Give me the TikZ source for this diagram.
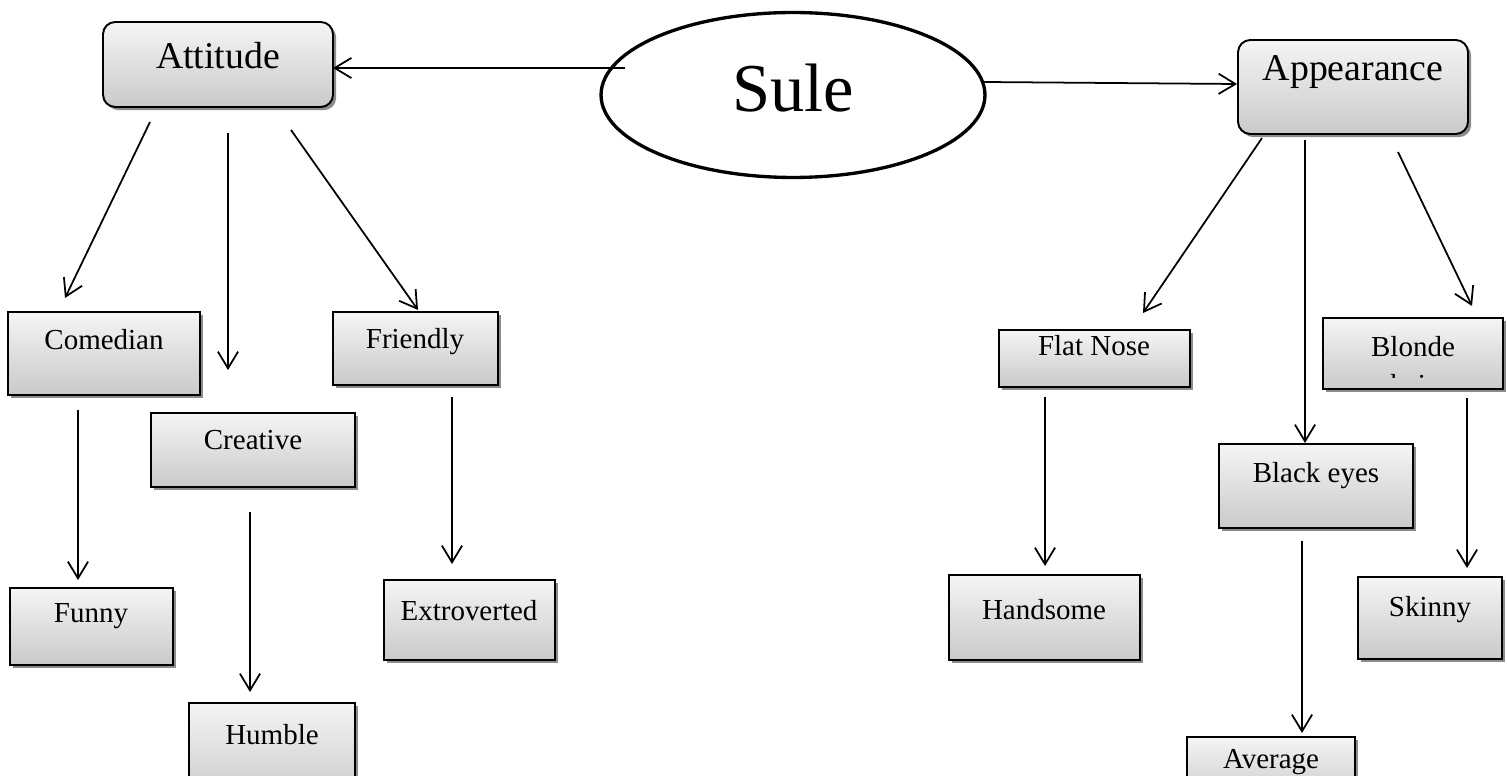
\documentclass[tikz,border=0pt]{standalone}
\usepackage{fontspec}
\setmainfont{Liberation Serif}
\usetikzlibrary{arrows.meta,shapes.geometric,shadows,fit}
\begin{document}
\begin{tikzpicture}[x=0.02cm,y=-0.02cm,
  box/.style={draw=black, line width=1.1pt, top color=gray!8, bottom color=gray!42,
    drop shadow={shadow xshift=1.8pt, shadow yshift=-1.8pt, opacity=1, fill=black!45},
    inner sep=0pt, outer sep=0pt},
  rbox/.style={box, rounded corners=7pt},
  lbl/.style={font=\fontsize{16.5}{19}\selectfont, inner sep=0pt},
  big/.style={font=\fontsize{21.5}{25}\selectfont, inner sep=0pt},
  arr/.style={-{Straight Barb[length=9.5pt,width=11.5pt]}, line width=1pt}]
\useasboundingbox (0,0) rectangle (1507,776);
\clip (0,0) rectangle (1507,776);

% centre
\node[draw, ellipse, line width=1.9pt, minimum width=7.68cm, minimum height=3.3cm, inner sep=0pt] (sule) at (793,95) {};
\node[font=\fontsize{39}{44}\selectfont, inner sep=0pt] (suletext) at (793,88) {Sule};

% top boxes
\node[rbox, fit={(103,22)(333,107)}] (attitude) {};
\node[big] (attitudetext) at (218,56) {Attitude};
\node[rbox, fit={(1238,40)(1468,134)}] (appearance) {};
\node[big] (appearancetext) at (1353,72) {Appearance};

% left boxes
\node[box, fit={(8,312)(200,395)}] (comedian) {};
\node[lbl] (comediantext) at (104,340) {Comedian};
\node[box, fit={(151,413)(355,487)}] (creative) {};
\node[lbl] (creativetext) at (253,440) {Creative};
\node[box, fit={(333,312)(498,385)}] (friendly) {};
\node[lbl] (friendlytext) at (415,342) {Friendly};
\node[box, fit={(10,588)(173,665)}] (funny) {};
\node[lbl] (funnytext) at (91,616) {Funny};
\node[box, fit={(189,703)(355,800)}] (humble) {};
\node[lbl] (humbletext) at (272,735) {Humble};
\node[box, fit={(384,580)(555,660)}] (extroverted) {};
\node[lbl] (extrovertedtext) at (469,611) {Extroverted};

% right boxes
\node[box, fit={(999,330)(1190,387)}] (flatnose) {};
\node[lbl] (flatnosetext) at (1094,346) {Flat Nose};
\node[box, fit={(1323,318)(1503,389)}] (blonde) {};
\node[lbl] (blondetext) at (1413,347) {Blonde};
\begin{scope}
  \clip (1323,318) rectangle (1503,378);
  \node[lbl, anchor=north] (hairtext) at (1413,374) {hair};
\end{scope}
\node[box, fit={(1219,444)(1413,528)}] (blackeyes) {};
\node[lbl] (blackeyestext) at (1316,476) {Black eyes};
\node[box, fit={(949,575)(1140,660)}] (handsome) {};
\node[lbl] (handsometext) at (1044,610) {Handsome};
\node[box, fit={(1358,577)(1502,659)}] (skinny) {};
\node[lbl] (skinnytext) at (1430,610) {Skinny};
\node[box, fit={(1187,737)(1355,800)}] (average) {};
\node[lbl] (averagetext) at (1271,762) {Average};

% connector end points
\coordinate (s1) at (625,68);
\coordinate (s2) at (984,82);
\coordinate (e2) at (1237,84);
\coordinate (c1s) at (150,122);  \coordinate (c1e) at (65,298);
\coordinate (c2s) at (228,133);  \coordinate (c2e) at (228,370);
\coordinate (c3s) at (291,130);  \coordinate (c3e) at (418,310);
\coordinate (c4s) at (78,410);   \coordinate (c4e) at (78,580);
\coordinate (c5s) at (250,512);  \coordinate (c5e) at (250,692);
\coordinate (c6s) at (452,397);  \coordinate (c6e) at (452,564);
\coordinate (d1s) at (1262,138); \coordinate (d1e) at (1143,313);
\coordinate (d2s) at (1305,140); \coordinate (d2e) at (1305,443);
\coordinate (d3s) at (1398,152); \coordinate (d3e) at (1472,306);
\coordinate (d4s) at (1045,397); \coordinate (d4e) at (1045,566);
\coordinate (d5s) at (1302,541); \coordinate (d5e) at (1302,733);
\coordinate (d6s) at (1467,398); \coordinate (d6e) at (1467,568);

% connectors
\draw[arr] (s1) -- (s1 -| attitude.east);
\draw[arr] (s2) -- (e2);
\draw[arr] (c1s) -- (c1e);
\draw[arr] (c2s) -- (c2e);
\draw[arr] (c3s) -- (c3e);
\draw[arr] (c4s) -- (c4e);
\draw[arr] (c5s) -- (c5e);
\draw[arr] (c6s) -- (c6e);
\draw[arr] (d1s) -- (d1e);
\draw[arr] (d2s) -- (d2e);
\draw[arr] (d3s) -- (d3e);
\draw[arr] (d4s) -- (d4e);
\draw[arr] (d5s) -- (d5e);
\draw[arr] (d6s) -- (d6e);
\end{tikzpicture}
\end{document}
